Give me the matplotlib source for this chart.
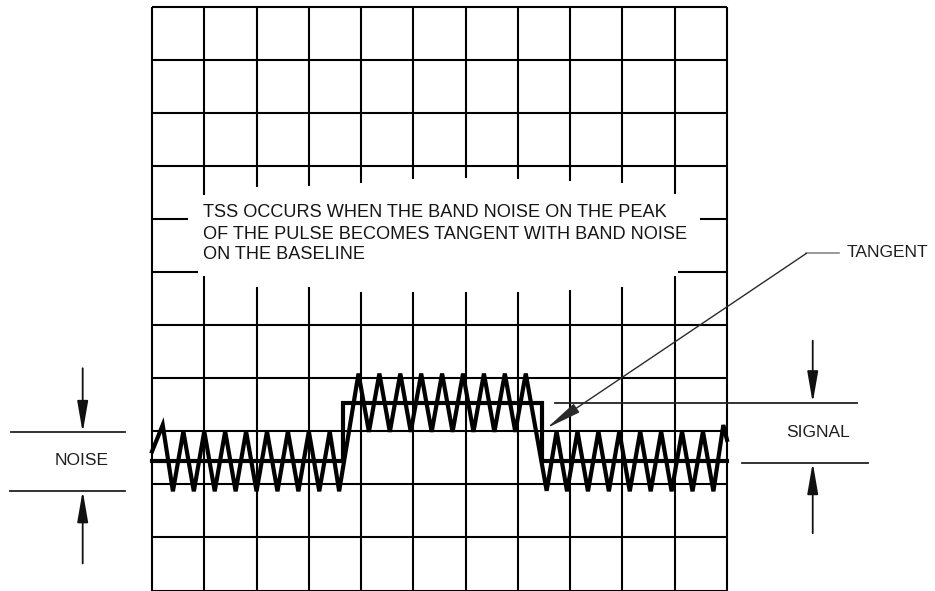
import matplotlib
matplotlib.use("Agg")
import matplotlib.pyplot as plt

plt.rcParams['font.family'] = ['Liberation Sans', 'DejaVu Sans']

# ---------------- data (grid units: 11 x 11 divisions) ----------------
n_cols = 11
n_rows = 11

# text-box opening in the graticule
box_row_top = 7
box_row_bottom = 6
box_top_gap = (0.68, 10.48)      # x-range where row 7 line is missing
box_bottom_gap = (0.88, 10.07)   # x-range where row 6 line is missing
stub_top_end = [7.46, 7.60, 7.63, 7.69, 7.76, 7.77, 7.76, 7.72, 7.69, 7.47]
stub_bottom_start = [5.93, 5.73, 5.72, 5.63, 5.63, 5.63, 5.63, 5.66, 5.73, 5.93]

# pulse level (step) line
step_x = [0.0, 3.66, 3.66, 7.46, 7.46, 11.0]
step_y = [2.44, 2.44, 3.54, 3.54, 2.44, 2.44]

# noise zig-zag vertices
noise_x = [0.00, 0.205,
           0.40, 0.60, 0.80, 1.00, 1.20, 1.40, 1.60, 1.80, 2.00, 2.20,
           2.40, 2.60, 2.80, 3.00, 3.20, 3.40, 3.58,
           3.95, 4.15, 4.35, 4.55, 4.75, 4.95, 5.15, 5.35, 5.55, 5.75,
           5.95, 6.15, 6.35, 6.55, 6.75, 6.95, 7.15,
           7.55, 7.74, 7.94, 8.14, 8.34, 8.54, 8.74, 8.94, 9.14, 9.34,
           9.54, 9.74, 9.94, 10.14, 10.34, 10.54, 10.74, 10.93, 11.00]
noise_y = [2.62, 3.12,
           1.87, 3.00, 1.87, 3.00, 1.87, 3.00, 1.87, 3.00, 1.87, 3.00,
           1.87, 3.00, 1.87, 3.00, 1.87, 3.00, 1.87,
           4.09, 2.99, 4.09, 2.99, 4.09, 2.99, 4.09, 2.99, 4.09, 2.99,
           4.09, 2.99, 4.09, 2.99, 4.09, 2.99, 4.09,
           1.88, 3.00, 1.87, 3.00, 1.87, 3.00, 1.87, 3.00, 1.87, 3.00,
           1.87, 3.00, 1.87, 3.00, 1.87, 3.00, 1.87, 3.12, 2.84]

# annotations
main_lines = ["TSS OCCURS WHEN THE BAND NOISE ON THE PEAK",
              "OF THE PULSE BECOMES TANGENT WITH BAND NOISE",
              "ON THE BASELINE"]
main_line_y = [7.12, 6.72, 6.33]
main_x = 0.975

noise_label = "NOISE"
noise_levels = [2.98, 1.88]
signal_label = "SIGNAL"
signal_levels = [3.54, 2.41]
tangent_label = "TANGENT"

# ---------------- figure ----------------
W, H = 935, 591
fig = plt.figure(figsize=(W / 100, H / 100), dpi=100)
ax = fig.add_axes([152 / W, 0.5 / H, 575 / W, 583.5 / H])
ax.set_xlim(0, n_cols)
ax.set_ylim(0, n_rows)
ax.axis('off')

grid_kw = dict(color='black', lw=1.5, solid_capstyle='butt', clip_on=False)

# vertical lines
for i in range(n_cols + 1):
    if 1 <= i <= n_cols - 1:
        ax.plot([i, i], [stub_top_end[i - 1], n_rows], **grid_kw)
        ax.plot([i, i], [0, stub_bottom_start[i - 1]], **grid_kw)
    else:
        ax.plot([i, i], [0, n_rows], **grid_kw)

# horizontal lines
for j in range(n_rows + 1):
    if j == box_row_top:
        ax.plot([0, box_top_gap[0]], [j, j], **grid_kw)
        ax.plot([box_top_gap[1], n_cols], [j, j], **grid_kw)
    elif j == box_row_bottom:
        ax.plot([0, box_bottom_gap[0]], [j, j], **grid_kw)
        ax.plot([box_bottom_gap[1], n_cols], [j, j], **grid_kw)
    else:
        ax.plot([0, n_cols], [j, j], **grid_kw)

# waveform
ax.plot(step_x, step_y, color='black', lw=3.0, solid_joinstyle='miter', clip_on=False, zorder=3)
ax.plot(noise_x, noise_y, color='black', lw=3.0, solid_joinstyle='miter', clip_on=False, zorder=4)

# main text
for s, yy in zip(main_lines, main_line_y):
    ax.text(main_x, yy, s, ha='left', va='center', fontsize=13.1, color='#151515')

txt_color = '#1e1e1e'
mark_kw = dict(color='#222222', lw=1.3, clip_on=False)

def arrow(x, y_tail, y_tip, hl=1.9, hw=0.33):
    ax.annotate('', xy=(x, y_tip), xytext=(x, y_tail), annotation_clip=False,
                arrowprops=dict(arrowstyle=f'-|>,head_length={hl},head_width={hw}',
                                color='#111111', lw=1.3, shrinkA=0, shrinkB=0,
                                mutation_scale=10))

# NOISE marker
ax.plot([-2.70, -0.52], [noise_levels[0]] * 2, **mark_kw)
ax.plot([-2.72, -0.52], [noise_levels[1]] * 2, **mark_kw)
arrow(-1.326, 4.19, noise_levels[0])
arrow(-1.326, 0.51, noise_levels[1])
ax.text(-1.34, 2.46, noise_label, ha='center', va='center', fontsize=12.5, color=txt_color)

# SIGNAL marker
ax.plot([7.71, 13.48], [signal_levels[0]] * 2, **mark_kw)
ax.plot([11.28, 13.70], [signal_levels[1]] * 2, **mark_kw)
arrow(12.64, 4.71, signal_levels[0])
arrow(12.64, 1.08, signal_levels[1])
ax.text(12.74, 2.98, signal_label, ha='center', va='center', fontsize=12.5, color=txt_color)

# TANGENT leader
ax.plot([13.15, 12.52], [6.356, 6.356], color='#888888', lw=1.2, clip_on=False)
ax.annotate('', xy=(7.55, 3.06), xytext=(12.52, 6.356), annotation_clip=False,
            arrowprops=dict(arrowstyle='-|>,head_length=2.2,head_width=0.32',
                            color='#2a2a2a', lw=1.0, shrinkA=0, shrinkB=0,
                            mutation_scale=10))
ax.text(13.29, 6.37, tangent_label, ha='left', va='center', fontsize=12.5, color=txt_color)

fig.savefig('out.png', dpi=100)
